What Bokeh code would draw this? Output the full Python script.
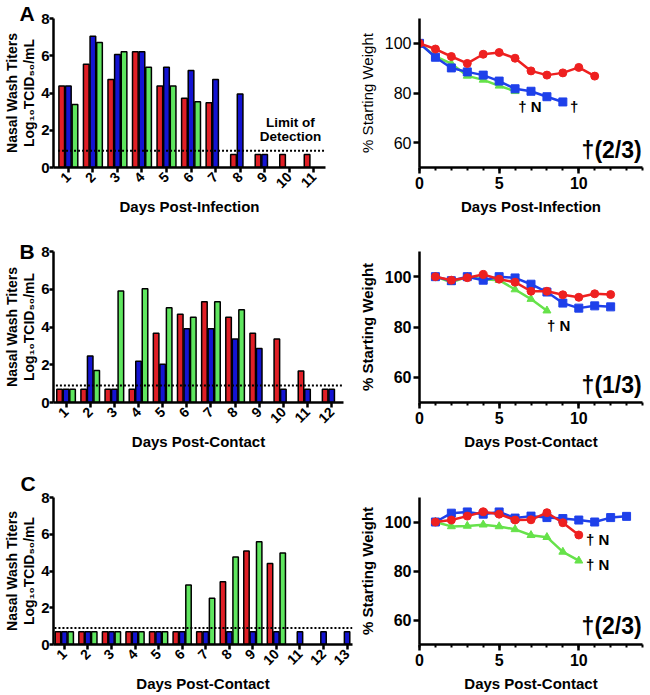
from math import pi
from bokeh.plotting import figure
from bokeh.layouts import row, column
from bokeh.models import Range1d, FixedTicker, Label, Title
from bokeh.embed import file_html
from bokeh.resources import INLINE

FONT = "Liberation Sans"
RED_BAR, BLUE_BAR, GREEN_BAR = "#e01f26", "#1414d2", "#5fe65f"
RED_LN, BLUE_LN, GREEN_LN = "#ee2020", "#1e40ea", "#66e24a"

LOD = 0.9

# ---------------- Nasal wash titers (log10 TCID50/mL) ----------------
days_a = [1, 2, 3, 4, 5, 6, 7, 8, 9, 10, 11]
titer_a_red = [4.38, 5.55, 4.72, 6.21, 4.38, 3.72, 3.48, 0.7, 0.7, 0.7, 0.7]
titer_a_blue = [4.38, 7.05, 6.07, 6.21, 5.38, 5.21, 4.72, 3.95, 0.7, None, None]
titer_a_green = [3.38, 6.71, 6.21, 5.38, 4.38, 3.53, None, None, None, None, None]

days_b = [1, 2, 3, 4, 5, 6, 7, 8, 9, 10, 11, 12]
titer_b_red = [0.7, 0.7, 0.7, 0.7, 3.67, 4.67, 5.34, 4.52, 3.67, 3.36, 1.67, 0.7]
titer_b_blue = [0.7, 2.47, 0.7, 2.19, 2.02, 3.91, 3.91, 3.36, 2.86, 0.7, 0.7, 0.7]
titer_b_green = [0.7, 1.69, 5.91, 6.02, 5.02, 4.52, 5.34, 4.91, None, None, None, None]

days_c = [1, 2, 3, 4, 5, 6, 7, 8, 9, 10, 11, 12, 13]
titer_c_red = [0.7, 0.7, 0.7, 0.7, 0.7, 0.7, 0.7, 3.41, 5.09, 4.41, None, None, None]
titer_c_blue = [0.7, 0.7, 0.7, 0.7, 0.7, 0.7, 0.7, 0.7, 0.7, 0.7, 0.7, 0.7, 0.7]
titer_c_green = [0.7, 0.7, 0.7, 0.7, 0.7, 3.24, 2.52, 4.76, 5.59, 4.98, None, None, None]

# ---------------- % starting weight ----------------
wdays_a_red = [0, 1, 2, 3, 4, 5, 6, 7, 8, 9, 10, 11]
weight_a_red = [100, 97.7, 94.7, 91.9, 95.6, 96.3, 94.0, 88.9, 87.2, 88.1, 90.3, 86.8]
wdays_a_blue = [0, 1, 2, 3, 4, 5, 6, 7, 8, 9]
weight_a_blue = [100, 94.4, 90.1, 88.5, 87.2, 84.8, 81.7, 80.7, 78.5, 76.4]
wdays_a_green = [0, 1, 2, 3, 4, 5, 6]
weight_a_green = [100, 94.7, 91.8, 86.9, 85.3, 82.9, 80.7]

wdays_b_red = [1, 2, 3, 4, 5, 6, 7, 8, 9, 10, 11, 12]
weight_b_red = [100, 98.6, 99.6, 100.9, 99.0, 97.8, 94.2, 94.2, 92.8, 91.8, 93.2, 92.9]
wdays_b_blue = [1, 2, 3, 4, 5, 6, 7, 8, 9, 10, 11, 12]
weight_b_blue = [100, 98.4, 100, 98.6, 100, 99.5, 97.0, 93.9, 89.5, 87.5, 88.4, 88.0]
wdays_b_green = [1, 2, 3, 4, 5, 6, 7, 8]
weight_b_green = [100, 97.8, 99.9, 99.0, 98.6, 94.9, 91.1, 86.5]

wdays_c_red = [1, 2, 3, 4, 5, 6, 7, 8, 9, 10]
weight_c_red = [100, 100.8, 102.4, 104.2, 103.2, 100.8, 100.9, 103.8, 99.7, 94.7]
wdays_c_blue = [1, 2, 3, 4, 5, 6, 7, 8, 9, 10, 11, 12, 13]
weight_c_blue = [100, 103.6, 104.1, 103.2, 104.1, 101.6, 102.4, 101.8, 101.4, 100.8, 100.0, 101.8, 102.3]
wdays_c_green = [1, 2, 3, 4, 5, 6, 7, 8, 9, 10]
weight_c_green = [100, 98.2, 98.4, 98.9, 98.2, 97.0, 94.6, 93.8, 87.8, 84.2]

titer_ticks = [0, 2, 4, 6, 8]
weight_ticks = [60, 80, 100]
wday_ticks = [0, 5, 10]
wday_minor = list(range(0, 15))

Y_TITLE_BAR = "Nasal Wash Titers\nLog\u2081\u2080TCID\u2085\u2080/mL"
Y_TITLE_W = "% Starting Weight"

LEFT_W, RIGHT_W = 355, 295


def make_fig(w, h, xr, yr, bl, br, bt, bb):
    p = figure(width=w, height=h, x_range=xr, y_range=yr, output_backend="svg",
               toolbar_location=None, min_border_left=bl, min_border_right=br,
               min_border_top=bt, min_border_bottom=bb)
    p.outline_line_color = None
    p.xgrid.visible = False
    p.ygrid.visible = False
    for ax in (p.xaxis[0], p.yaxis[0]):
        ax.axis_line_width = 2.5
        ax.major_tick_line_width = 2.5
        ax.minor_tick_line_width = 2
        ax.major_tick_in = 0
        ax.minor_tick_in = 0
        ax.axis_label_text_font = FONT
        ax.axis_label_text_font_style = "bold"
        ax.axis_label_text_font_size = "15px"
        ax.major_label_text_font = FONT
        ax.major_label_text_font_style = "bold"
        ax.axis_label_text_color = "black"
        ax.major_label_text_color = "black"
    return p


def note(x, y, text, size, align="left"):
    return Label(x=x, y=y, text=text, text_font=FONT, text_font_style="bold", text_color="black",
                 text_font_size=size, text_align=align, text_baseline="middle")


def bar_panel(days, red, blue, green, xlabel, letter, x0, x1, frame_w, bt, frame_h, bb,
              letter_off, letter_standoff, lod_text=False):
    h = bt + frame_h + bb
    p = make_fig(LEFT_W, h, Range1d(x0, x1), Range1d(0, 8), 50, LEFT_W - 50 - frame_w, bt, bb)
    off, bw = 0.27, 0.23
    for vals, o, col in ((red, -off, RED_BAR), (blue, 0.0, BLUE_BAR), (green, off, GREEN_BAR)):
        xs = [d + o for d, v in zip(days, vals) if v is not None]
        ys = [v for v in vals if v is not None]
        p.vbar(x=xs, top=ys, bottom=0, width=bw, fill_color=col, line_color="black", line_width=1.5)
    p.line(x=[days[0] - 0.42, x1], y=[LOD, LOD], line_color="black", line_width=2, line_dash="2 2")
    p.yaxis.ticker = FixedTicker(ticks=titer_ticks)
    p.yaxis.major_tick_out = 4
    p.yaxis.major_label_standoff = 0
    p.yaxis.major_label_text_font_size = "15px"
    p.yaxis.axis_label = Y_TITLE_BAR
    p.yaxis.axis_label_standoff = 1
    p.yaxis.axis_label_text_line_height = 1.1
    p.yaxis.axis_label_text_font_size = "14px"
    p.xaxis.ticker = FixedTicker(ticks=days)
    p.xaxis.major_tick_out = 5
    p.xaxis.major_label_orientation = pi / 4
    p.xaxis.major_label_text_font_size = "14px"
    p.xaxis.major_label_standoff = 2
    p.xaxis.axis_label = xlabel
    p.xaxis.axis_label_standoff = 2
    p.add_layout(Title(text=letter, align="left", offset=letter_off, standoff=letter_standoff,
                       vertical_align="bottom", text_font=FONT, text_font_style="bold",
                       text_font_size="21px", text_color="black"), "above")
    if lod_text:
        p.add_layout(note(10.05, 2.42, "Limit of", "13.5px", "center"))
        p.add_layout(note(10.05, 1.65, "Detection", "13.5px", "center"))
    return p


def weight_panel(series, xlabel, bt, frame_h, bb, notes, frac, frac_y, bold_y=True):
    h = bt + frame_h + bb
    p = make_fig(RIGHT_W, h, Range1d(0, 14), Range1d(50, 110), 64, 8, bt, bb)
    for xs, ys, col, marker, size in series:
        p.line(x=xs, y=ys, line_color=col, line_width=2.5)
        p.scatter(x=xs, y=ys, marker=marker, size=size, fill_color=col, line_color=col)
    p.yaxis.ticker = FixedTicker(ticks=weight_ticks)
    p.yaxis.major_tick_out = 6
    p.yaxis.major_label_standoff = 2
    p.yaxis.major_label_text_font_size = "16px"
    p.yaxis.axis_label = Y_TITLE_W
    p.yaxis.axis_label_standoff = 6
    if not bold_y:
        p.yaxis.major_label_text_font_style = "normal"
        p.yaxis.axis_label_text_font_style = "normal"
    p.xaxis.ticker = FixedTicker(ticks=wday_ticks, minor_ticks=wday_minor)
    p.xaxis.major_tick_out = 6
    p.xaxis.minor_tick_out = 3
    p.xaxis.major_label_standoff = 3
    p.xaxis.major_label_text_font_size = "16px"
    p.xaxis.axis_label = xlabel
    p.xaxis.axis_label_standoff = 6
    for x, y, t in notes:
        p.add_layout(note(x, y, t, "15px"))
    p.add_layout(note(13.95, frac_y, frac, "23px", "right"))
    return p


bar_a = bar_panel(days_a, titer_a_red, titer_a_blue, titer_a_green, "Days Post-Infection", "A",
                  0.395, 11.48, 275, 16, 155, 57, -34, -12, lod_text=True)
bar_b = bar_panel(days_b, titer_b_red, titer_b_blue, titer_b_green, "Days Post-Contact", "B",
                  0.48, 12.49, 293, 22, 155, 58, -34, -23)
bar_c = bar_panel(days_c, titer_c_red, titer_c_blue, titer_c_green, "Days Post-Contact", "C",
                  0.54, 13.23, 302, 31, 155, 45, -33, 5)

w_a = weight_panel([(wdays_a_green, weight_a_green, GREEN_LN, "triangle", 8),
                    (wdays_a_blue, weight_a_blue, BLUE_LN, "square", 8),
                    (wdays_a_red, weight_a_red, RED_LN, "circle", 8)],
                   "Days Post-Infection", 18, 149, 61,
                   [(6.2, 74.5, "\u2020 N"), (9.45, 74.5, "\u2020")], "\u2020(2/3)", 57, bold_y=False)
w_b = weight_panel([(wdays_b_green, weight_b_green, GREEN_LN, "triangle", 8),
                    (wdays_b_blue, weight_b_blue, BLUE_LN, "square", 8),
                    (wdays_b_red, weight_b_red, RED_LN, "circle", 8)],
                   "Days Post-Contact", 23, 151, 61,
                   [(8.0, 80.6, "\u2020 N")], "\u2020(1/3)", 57)
w_c = weight_panel([(wdays_c_green, weight_c_green, GREEN_LN, "triangle", 8),
                    (wdays_c_blue, weight_c_blue, BLUE_LN, "square", 8),
                    (wdays_c_red, weight_c_red, RED_LN, "circle", 8)],
                   "Days Post-Contact", 34, 147, 50,
                   [(10.45, 92.8, "\u2020 N"), (10.45, 82.6, "\u2020 N")], "\u2020(2/3)", 57.5)

layout = column(row(bar_a, w_a), row(bar_b, w_b), row(bar_c, w_c))

with open("out.html", "w") as f:
    f.write(file_html(layout, INLINE))
